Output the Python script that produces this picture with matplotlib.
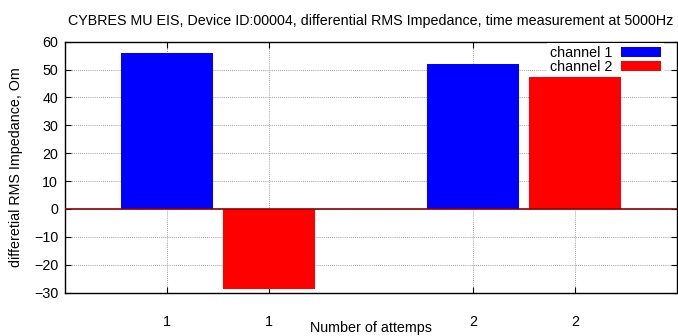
import matplotlib
matplotlib.use("Agg")
import matplotlib.pyplot as plt

plt.rcParams["font.family"] = ["Liberation Sans", "DejaVu Sans"]

# measurement data: one bar per channel per attempt
attempt_pos_ch1 = [1, 4]
attempt_pos_ch2 = [2, 5]
channel1 = [55.8, 52.0]
channel2 = [-28.7, 47.4]
tick_pos = [1, 2, 4, 5]
tick_labels = ["1", "1", "2", "2"]
yticks = [-30, -20, -10, 0, 10, 20, 30, 40, 50, 60]

TITLE = ("CYBRES MU EIS, Device ID:00004, differential RMS Impedance, "
         "time measurement at 5000Hz")
FS = 10.3

fig = plt.figure(figsize=(6.78, 3.36), dpi=100)
ax = fig.add_axes([0.0959, 0.129, 0.9026, 0.747])

ax.bar(attempt_pos_ch1, channel1, width=0.9, color="#0000ff",
       label="channel 1", zorder=2)
ax.bar(attempt_pos_ch2, channel2, width=0.9, color="#ff0000",
       label="channel 2", zorder=2)
ax.axhline(0, color="#8b0000", lw=1.2, zorder=3)

ax.set_xlim(0, 6)
ax.set_ylim(-30, 60)
ax.set_xticks(tick_pos)
ax.set_xticklabels(tick_labels)
ax.set_yticks(yticks)

ax.grid(True, color="#808080", linestyle=(0, (1, 1.5)), lw=0.6, zorder=0)
ax.set_axisbelow(True)
ax.tick_params(direction="in", length=4, width=0.8, top=True, right=True,
               labelsize=FS, colors="black")
ax.tick_params(axis="x", pad=16)
ax.tick_params(axis="y", pad=5)
for sp in ax.spines.values():
    sp.set_linewidth(1.0)

ax.set_title(TITLE, fontsize=FS, pad=12)
ax.set_xlabel("Number of attemps", fontsize=FS, va="top")
ax.xaxis.set_label_coords(0.5, -0.112)
ax.set_ylabel("differetial RMS Impedance, Om", fontsize=FS, labelpad=8)

# key sits in the top-right corner, text before the swatch
leg = ax.legend(loc="upper right", bbox_to_anchor=(0.979, 0.995),
                markerfirst=False, fontsize=FS,
                frameon=True, fancybox=False, framealpha=1,
                edgecolor="none", facecolor="white",
                handlelength=2.8, handleheight=0.65, handletextpad=0.6,
                labelspacing=0.0, borderpad=0.2, borderaxespad=0.0)
for t in leg.get_texts():
    t.set_ha("right")

fig.savefig("out.png", dpi=100)
